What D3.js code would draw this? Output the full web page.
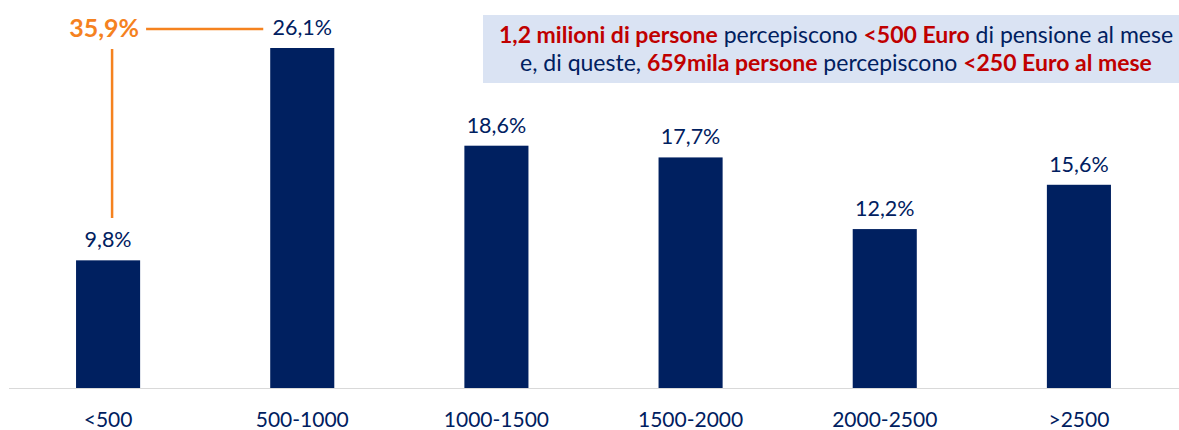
<!DOCTYPE html>
<html>
<head>
<meta charset="utf-8">
<script src="https://cdn.jsdelivr.net/npm/d3@7"></script>
<style>
  body { margin: 0; background: #fff; }
  svg { font-family: Lato, "Open Sans", sans-serif; }
</style>
</head>
<body>
<div id="chart"></div>
<script>
// Dati
const categories = ["<500", "500-1000", "1000-1500", "1500-2000", "2000-2500", ">2500"];
const values = [9.8, 26.1, 18.6, 17.7, 12.2, 15.6];
const valueLabels = ["9,8%", "26,1%", "18,6%", "17,7%", "12,2%", "15,6%"];
const sumLabel = "35,9%";
const noteLine1 = [
  { t: "1,2 milioni di persone", bold: true },
  { t: " percepiscono ", bold: false },
  { t: "<500 Euro", bold: true },
  { t: " di pensione al mese", bold: false }
];
const noteLine2 = [
  { t: "e, di queste, ", bold: false },
  { t: "659mila persone", bold: true },
  { t: " percepiscono ", bold: false },
  { t: "<250 Euro al mese", bold: true }
];

const width = 1179, height = 430;
const baseY = 388;
const navy = "#002060", orange = "#f5821f", red = "#c00000";

const svg = d3.select("#chart").append("svg")
  .attr("width", width)
  .attr("height", height);

const xScale = d3.scaleBand()
  .domain(categories)
  .range([11, 1176])
  .paddingInner(0.67)
  .paddingOuter(0.335);

const yScale = d3.scaleLinear()
  .domain([0, 26.1])
  .range([baseY, 48]);

// Asse
svg.append("line")
  .attr("x1", 9).attr("x2", width)
  .attr("y1", baseY + 0.5).attr("y2", baseY + 0.5)
  .attr("stroke", "#d9d9d9").attr("stroke-width", 1);

// Barre
svg.selectAll("rect.bar")
  .data(values)
  .enter()
  .append("rect")
    .attr("class", "bar")
    .attr("x", (d, i) => xScale(categories[i]))
    .attr("y", d => yScale(d))
    .attr("width", xScale.bandwidth())
    .attr("height", d => baseY - yScale(d))
    .attr("fill", navy);

// Etichette valori
svg.selectAll("text.val")
  .data(values)
  .enter()
  .append("text")
    .attr("class", "val")
    .attr("x", (d, i) => xScale(categories[i]) + xScale.bandwidth() / 2)
    .attr("y", d => yScale(d) - 13)
    .attr("text-anchor", "middle")
    .attr("fill", navy)
    .attr("font-size", 21.5)
    .text((d, i) => valueLabels[i]);

// Etichette categorie
svg.selectAll("text.cat")
  .data(categories)
  .enter()
  .append("text")
    .attr("class", "cat")
    .attr("x", d => xScale(d) + xScale.bandwidth() / 2)
    .attr("y", 427)
    .attr("text-anchor", "middle")
    .attr("fill", navy)
    .attr("font-size", 21)
    .text(d => d);

// Annotazione somma
const cx0 = xScale(categories[0]) + xScale.bandwidth() / 2;
const cx1 = xScale(categories[1]) + xScale.bandwidth() / 2;
const topY = 29;
svg.append("line")
  .attr("x1", cx0 + 4).attr("x2", cx0 + 4)
  .attr("y1", 218).attr("y2", 49)
  .attr("stroke", orange).attr("stroke-width", 2.5);
svg.append("line")
  .attr("x1", cx0 + 38).attr("x2", cx1 - 39)
  .attr("y1", topY).attr("y2", topY)
  .attr("stroke", orange).attr("stroke-width", 2.5);
svg.append("text")
  .attr("x", cx0 - 4)
  .attr("y", topY + 8)
  .attr("text-anchor", "middle")
  .attr("fill", orange)
  .attr("font-size", 25)
  .attr("font-weight", "bold")
  .text(sumLabel);

// Box nota
svg.append("rect")
  .attr("x", 483).attr("y", 15)
  .attr("width", width - 483).attr("height", 68)
  .attr("fill", "#dae3f3");

[noteLine1, noteLine2].forEach((line, i) => {
  const t = svg.append("text")
    .attr("x", 836)
    .attr("y", 43 + i * 28)
    .attr("text-anchor", "middle")
    .attr("font-size", 23);
  t.selectAll("tspan")
    .data(line)
    .enter()
    .append("tspan")
      .attr("fill", d => d.bold ? red : navy)
      .attr("font-weight", d => d.bold ? "bold" : "normal")
      .text(d => d.t);
});
</script>
</body>
</html>
